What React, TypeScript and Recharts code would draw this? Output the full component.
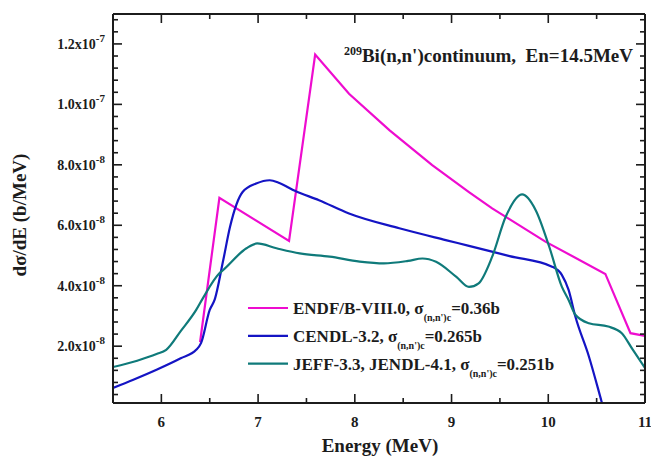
import { LineChart, Line, XAxis, YAxis } from 'recharts'

// ---------------------------------------------------------------------------
// Data (values in units of 1e-8 b/MeV, energies in MeV)
// ---------------------------------------------------------------------------

const ENDF_E = [6.4, 6.6, 7.32, 7.59, 7.94, 8.36, 8.8, 9.18, 9.42, 9.97, 10.59, 10.85, 11.0]
const ENDF_V = [2.13, 6.91, 5.48, 11.65, 10.35, 9.14, 7.99, 7.1, 6.56, 5.46, 4.39, 2.43, 2.34]

const CENDL_E = [
  5.5, 5.71, 5.95, 6.2, 6.36, 6.41, 6.5, 6.55, 6.64, 6.71, 6.84, 6.98, 7.12, 7.22, 7.38,
  7.63, 7.94, 8.46, 8.94, 9.18, 9.6, 10.04, 10.14, 10.21, 10.28, 10.42, 10.55, 10.6,
]
const CENDL_V = [
  0.62, 0.89, 1.22, 1.6, 1.88, 2.1, 3.2, 3.53, 4.85, 5.95, 7.1, 7.38, 7.49, 7.4, 7.14,
  6.83, 6.39, 5.9, 5.51, 5.32, 4.98, 4.63, 4.36, 3.86, 2.98, 1.66, 0.18, -0.4,
]

const JEFF_E = [
  5.5, 5.75, 5.95, 6.05, 6.2, 6.36, 6.43, 6.6, 6.64, 6.88, 6.99, 7.19, 7.43, 7.74, 8.05,
  8.3, 8.55, 8.7, 8.84, 9.05, 9.18, 9.28, 9.42, 9.56, 9.73, 9.87, 10.01, 10.14, 10.21,
  10.28, 10.42, 10.62, 10.76, 10.87, 11.0,
]
const JEFF_V = [
  1.31, 1.52, 1.74, 1.88, 2.5, 3.2, 3.59, 4.41, 4.52, 5.24, 5.4, 5.24, 5.07, 4.96, 4.8,
  4.74, 4.82, 4.9, 4.79, 4.29, 3.96, 4.08, 4.96, 6.28, 7.02, 6.5, 5.29, 3.97, 3.53,
  3.04, 2.76, 2.65, 2.43, 1.9, 1.28,
]

const SERIES = [
  { name: 'ENDF/B-VIII.0, σ', tail: '=0.36b', color: '#ee0ccf', e: ENDF_E, v: ENDF_V, type: 'linear' },
  { name: 'CENDL-3.2, σ', tail: '=0.265b', color: '#1414c4', e: CENDL_E, v: CENDL_V, type: 'monotone' },
  { name: 'JEFF-3.3, JENDL-4.1, σ', tail: '=0.251b', color: '#0f7a7a', e: JEFF_E, v: JEFF_V, type: 'monotone' },
]

const X_DOMAIN = [5.5, 11]
const Y_DOMAIN = [0.12, 12.99]
const X_MAJOR = [6, 7, 8, 9, 10, 11]
const X_MINOR = [6.5, 7.5, 8.5, 9.5, 10.5]
const Y_MAJOR = [2, 4, 6, 8, 10, 12]
const Y_MANTISSA = ['2.0', '4.0', '6.0', '8.0', '1.0', '1.2']
const Y_EXP = ['-8', '-8', '-8', '-8', '-7', '-7']

const Y_TICKS: number[] = []
for (let i = 1; i <= 32; i++) Y_TICKS.push(Math.round(i * 4) / 10)
const X_TICKS = [...X_MAJOR, ...X_MINOR].sort((a, b) => a - b)

const FONT = '"Liberation Serif", "Times New Roman", Times, serif'
const INK = '#1c1c1c'

const toPoints = (e: number[], v: number[]) => e.map((x, i) => ({ e: x, v: v[i] }))
const findIdx = (arr: number[], v: number) => arr.findIndex((m) => Math.abs(m - v) < 1e-6)

// ---------------------------------------------------------------------------
// Inward ticks for all four sides
// ---------------------------------------------------------------------------

function AxisTick(props: any) {
  const { x, y, payload, side } = props
  const v = payload.value
  const vertical = side === 'left' || side === 'right'
  const idx = vertical ? findIdx(Y_MAJOR, v) : findIdx(X_MAJOR, v)
  const len = idx >= 0 ? 9 : 5
  const dir = side === 'left' || side === 'top' ? 1 : -1
  const txt = { fontFamily: FONT, fontWeight: 700 as const }

  return (
    <g>
      {vertical ? (
        <line x1={x} y1={y} x2={x + dir * len} y2={y} stroke={INK} strokeWidth={1.6} />
      ) : (
        <line x1={x} y1={y} x2={x} y2={y + dir * len} stroke={INK} strokeWidth={1.6} />
      )}
      {side === 'left' && idx >= 0 && (
        <text x={x - 8} y={y + 5} textAnchor="end" fontSize={14} fill={INK} style={txt}>
          <tspan>{Y_MANTISSA[idx]}x10</tspan>
          <tspan dy={-7} fontSize={11}>{Y_EXP[idx]}</tspan>
        </text>
      )}
      {side === 'bottom' && idx >= 0 && (
        <text x={x} y={y + 24} textAnchor="middle" fontSize={15} fill={INK} style={txt}>
          {X_MAJOR[idx]}
        </text>
      )}
    </g>
  )
}

// ---------------------------------------------------------------------------

export default function App() {
  const axisLine = { stroke: INK, strokeWidth: 2 }
  const frameData = toPoints(X_DOMAIN, Y_DOMAIN)
  return (
    <div style={{ position: 'absolute', left: 0, top: 0, width: 651, height: 459, background: '#fff' }}>
      <LineChart width={651} height={459} margin={{ top: 13, right: 5, bottom: 0, left: 0 }}>
        <XAxis
          xAxisId="b"
          dataKey="e"
          type="number"
          domain={X_DOMAIN}
          ticks={X_TICKS}
          interval={0}
          allowDataOverflow
          height={56}
          tickSize={0}
          tickMargin={0}
          tickLine={false}
          axisLine={axisLine}
          tick={(p: any) => <AxisTick {...p} side="bottom" />}
        />
        <XAxis
          xAxisId="t"
          orientation="top"
          dataKey="e"
          type="number"
          domain={X_DOMAIN}
          ticks={X_TICKS}
          interval={0}
          allowDataOverflow
          height={1}
          tickSize={0}
          tickMargin={0}
          tickLine={false}
          axisLine={axisLine}
          tick={(p: any) => <AxisTick {...p} side="top" />}
        />
        <YAxis
          yAxisId="l"
          type="number"
          domain={Y_DOMAIN}
          ticks={Y_TICKS}
          interval={0}
          allowDataOverflow
          width={113}
          tickSize={0}
          tickMargin={0}
          tickLine={false}
          axisLine={axisLine}
          tick={(p: any) => <AxisTick {...p} side="left" />}
        />
        <YAxis
          yAxisId="r"
          orientation="right"
          type="number"
          domain={Y_DOMAIN}
          ticks={Y_TICKS}
          interval={0}
          allowDataOverflow
          width={1}
          tickSize={0}
          tickMargin={0}
          tickLine={false}
          axisLine={axisLine}
          tick={(p: any) => <AxisTick {...p} side="right" />}
        />
        {/* invisible series so the mirror axes (top/right) get drawn */}
        <Line
          xAxisId="t"
          yAxisId="r"
          data={frameData}
          dataKey="v"
          stroke="none"
          dot={false}
          activeDot={false}
          legendType="none"
          isAnimationActive={false}
        />
        {SERIES.map((s) => (
          <Line
            key={s.name}
            xAxisId="b"
            yAxisId="l"
            data={toPoints(s.e, s.v)}
            dataKey="v"
            type={s.type as any}
            stroke={s.color}
            strokeWidth={2.2}
            dot={false}
            activeDot={false}
            isAnimationActive={false}
          />
        ))}
      </LineChart>

      {/* Title, axis titles and legend */}
      <svg
        width={651}
        height={459}
        style={{ position: 'absolute', left: 0, top: 0, pointerEvents: 'none', fontFamily: FONT, fontWeight: 700 }}
        fill={INK}
      >
        <text x={633} y={62} textAnchor="end" fontSize={19}>
          <tspan fontSize={12} dy={-7}>209</tspan>
          <tspan dy={7}>Bi(n,n')continuum,{'\u00A0'} En=14.5MeV</tspan>
        </text>

        <text transform="rotate(-90)" x={-215} y={26} textAnchor="middle" fontSize={19}>
          dσ/dE (b/MeV)
        </text>
        <text x={380} y={452} textAnchor="middle" fontSize={19}>
          Energy (MeV)
        </text>

        {SERIES.map((s, i) => {
          const ly = 308 + i * 27.8
          return (
            <g key={s.name}>
              <line x1={248} x2={288} y1={ly} y2={ly} stroke={s.color} strokeWidth={2.2} />
              <text x={293} y={ly + 6} fontSize={17}>
                <tspan>{s.name}</tspan>
                <tspan fontSize={10} dy={7}>(n,n')c</tspan>
                <tspan dy={-7}>{s.tail}</tspan>
              </text>
            </g>
          )
        })}
      </svg>
    </div>
  )
}
